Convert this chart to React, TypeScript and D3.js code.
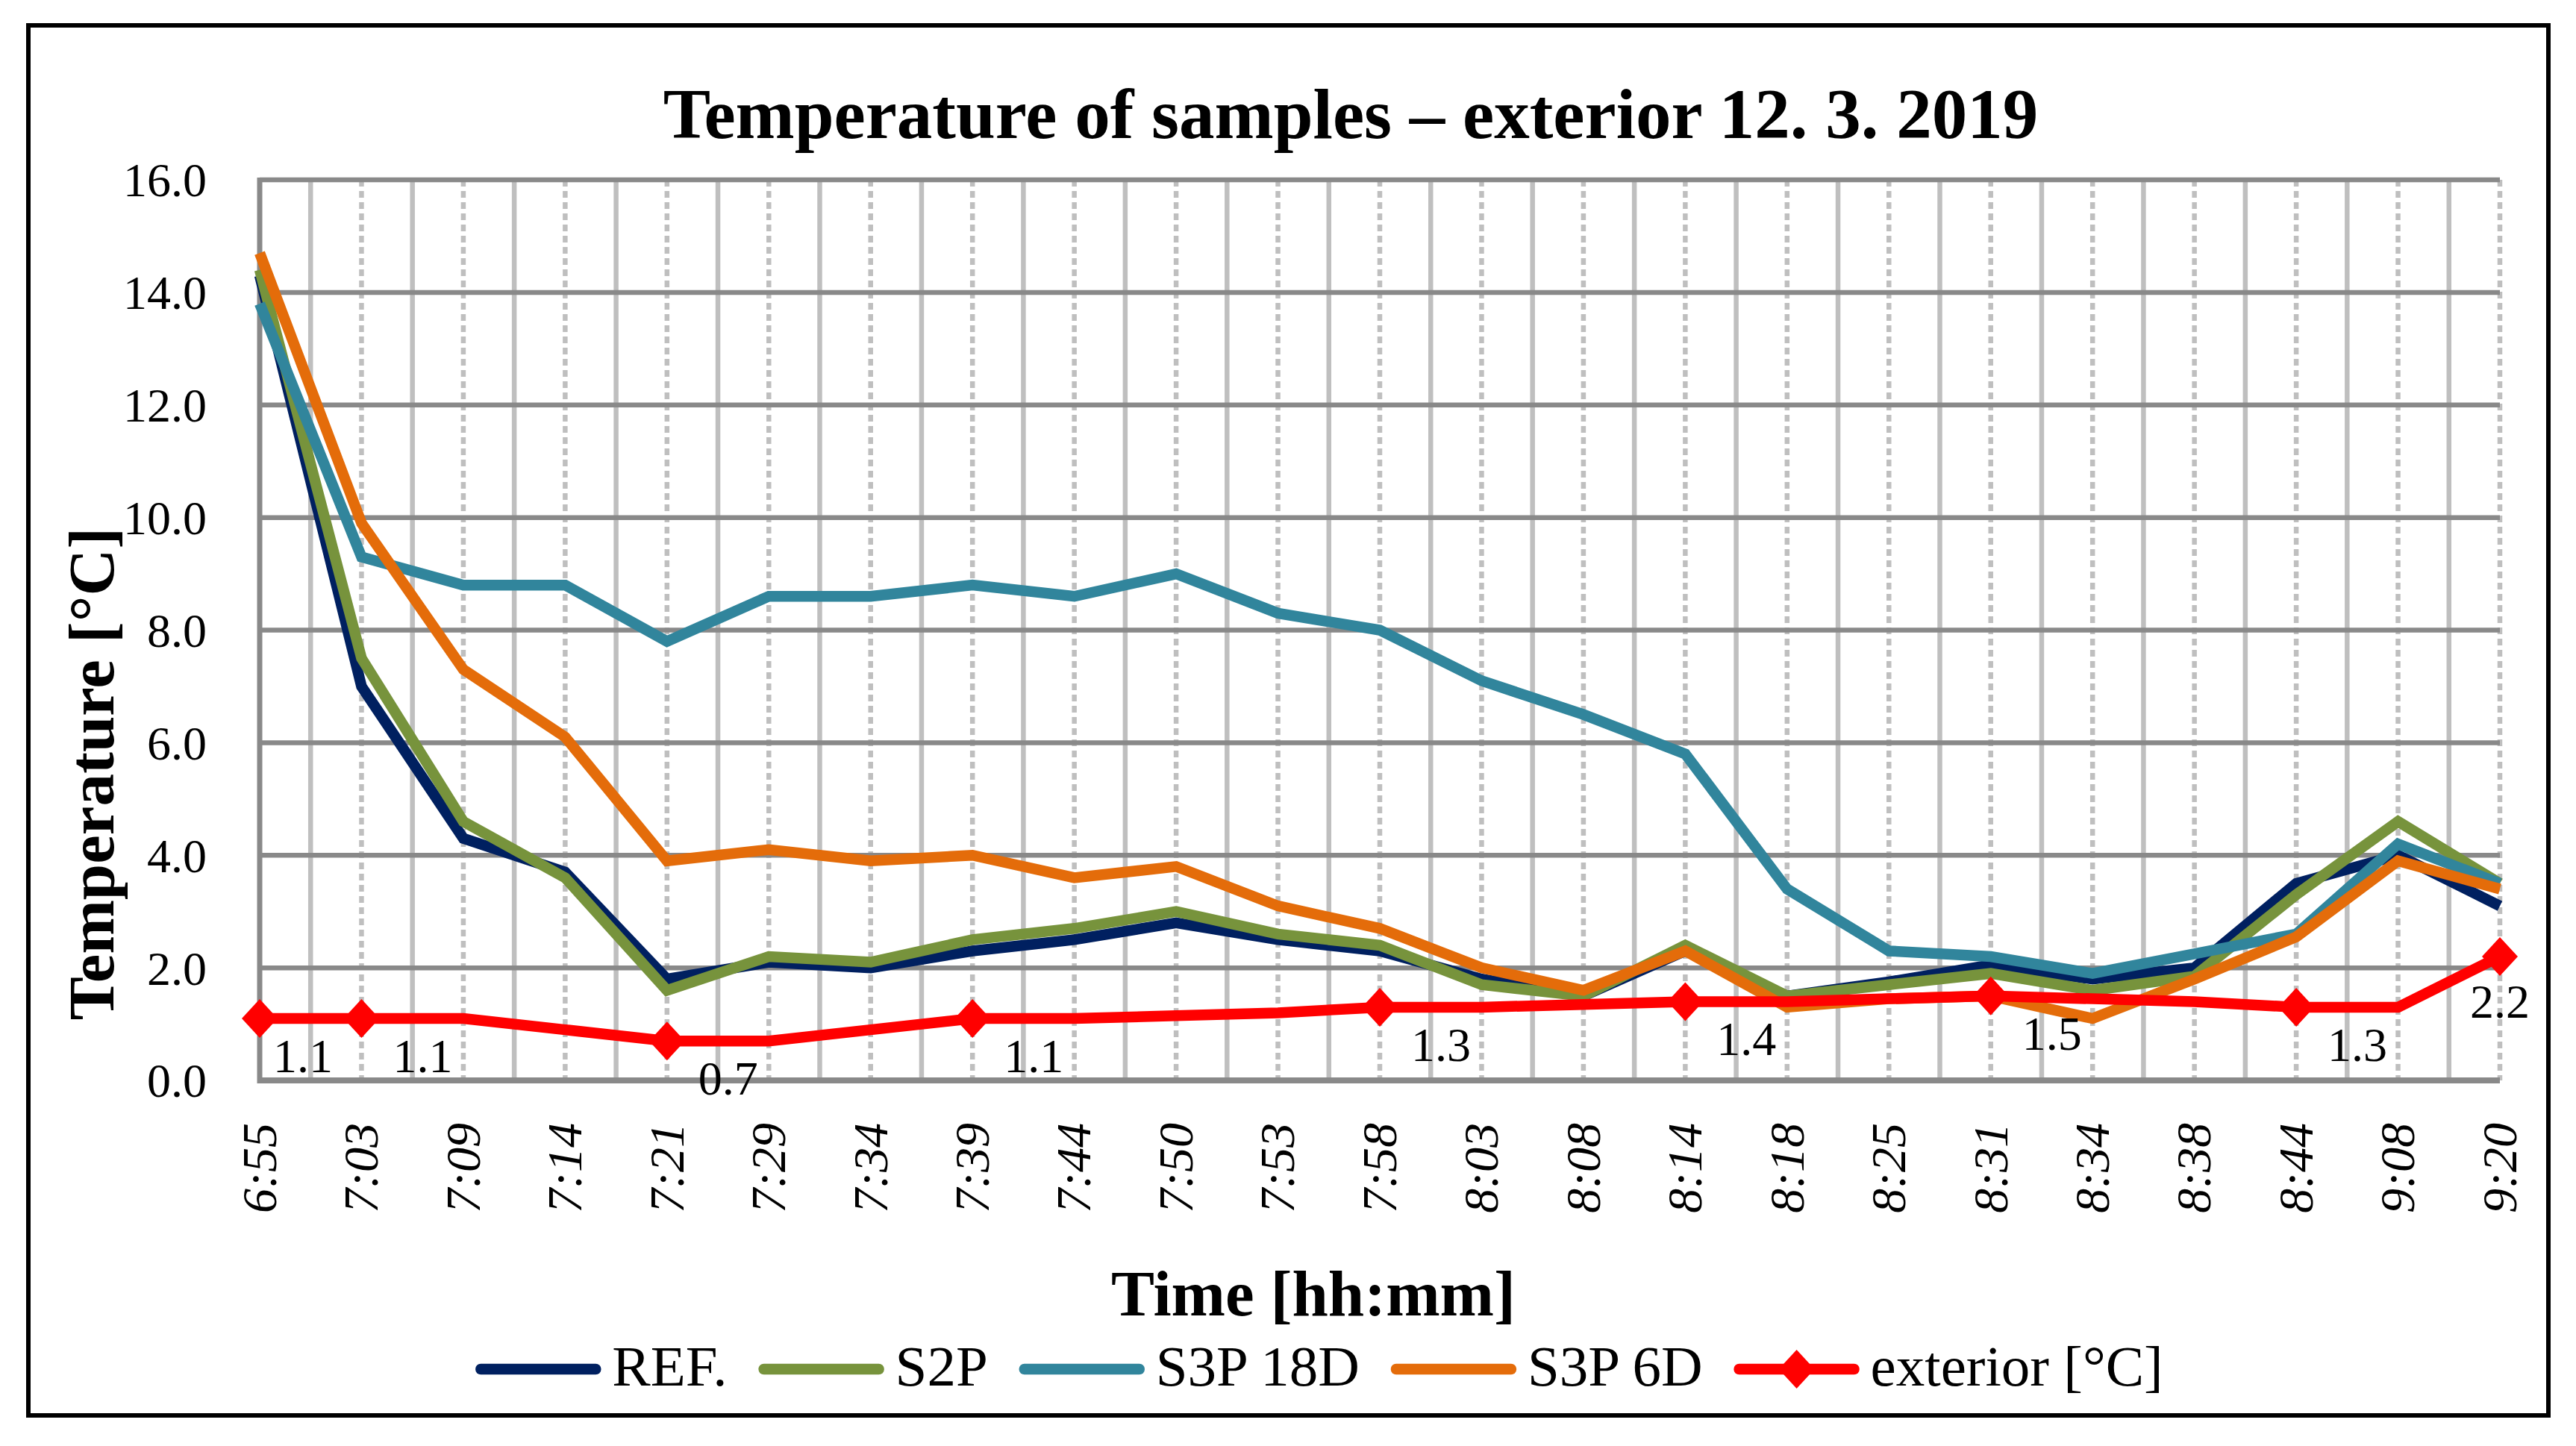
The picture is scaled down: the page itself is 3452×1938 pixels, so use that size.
import React, { useEffect, useRef } from "react";
import * as d3 from "d3";

const categories = ["6:55","7:03","7:09","7:14","7:21","7:29","7:34","7:39","7:44","7:50","7:53","7:58","8:03","8:08","8:14","8:18","8:25","8:31","8:34","8:38","8:44","9:08","9:20"];
const refValues = [14.3, 7.0, 4.3, 3.7, 1.8, 2.1, 2.0, 2.3, 2.5, 2.8, 2.5, 2.3, 1.8, 1.5, 2.3, 1.5, 1.75, 2.05, 1.8, 2.0, 3.5, 4.0, 3.1];
const s2pValues = [14.4, 7.5, 4.6, 3.6, 1.6, 2.2, 2.1, 2.5, 2.7, 3.0, 2.6, 2.4, 1.7, 1.5, 2.4, 1.5, 1.7, 1.9, 1.6, 1.85, 3.3, 4.6, 3.5];
const s3p18dValues = [13.8, 9.3, 8.8, 8.8, 7.8, 8.6, 8.6, 8.8, 8.6, 9.0, 8.3, 8.0, 7.1, 6.5, 5.8, 3.4, 2.3, 2.2, 1.9, 2.25, 2.6, 4.2, 3.5];
const s3p6dValues = [14.7, 9.9, 7.3, 6.1, 3.9, 4.1, 3.9, 4.0, 3.6, 3.8, 3.1, 2.7, 2.0, 1.6, 2.3, 1.3, 1.45, 1.5, 1.1, 1.8, 2.55, 3.9, 3.4];
const exteriorValues = [1.1, 1.1, 1.1, 0.9, 0.7, 0.7, 0.9, 1.1, 1.1, 1.15, 1.2, 1.3, 1.3, 1.35, 1.4, 1.4, 1.45, 1.5, 1.45, 1.4, 1.3, 1.3, 2.2];
const exteriorMarked = [0, 1, 4, 7, 11, 14, 17, 20, 22];
const yTicks = [0, 2, 4, 6, 8, 10, 12, 14, 16];

const seriesNames = ["REF.", "S2P", "S3P 18D", "S3P 6D", "exterior [°C]"];
const seriesColors = ["#002060", "#77933C", "#31859C", "#E46C0A", "#FF0000"];

const W = 3452;
const H = 1938;
const FONT = "'Liberation Serif', 'Times New Roman', serif";

export default function App() {
  const ref = useRef<SVGSVGElement | null>(null);

  useEffect(() => {
    const svg = d3.select(ref.current);
    svg.selectAll("*").remove();

    const L = 348, R = 3350, T = 241, B = 1448;
    const x = d3.scalePoint<string>().domain(categories).range([L, R]);
    const y = d3.scaleLinear().domain([0, 16]).range([B, T]);

    svg.append("rect").attr("x", 0).attr("y", 0).attr("width", W).attr("height", H).attr("fill", "#fff");
    svg.append("rect").attr("x", 38).attr("y", 34).attr("width", 3415 - 38).attr("height", 1897 - 34)
      .attr("fill", "none").attr("stroke", "#000").attr("stroke-width", 6);

    const g = svg.append("g");

    // vertical solid gridlines between categories
    const mids = categories.slice(0, -1).map((c, i) => ((x(c) as number) + (x(categories[i + 1]) as number)) / 2);
    g.selectAll("line.vs").data(mids).enter().append("line")
      .attr("x1", (d) => d).attr("x2", (d) => d).attr("y1", T).attr("y2", B)
      .attr("stroke", "#BFBFBF").attr("stroke-width", 6.5);
    // dashed gridlines at categories
    g.selectAll("line.vd").data(categories.slice(1)).enter().append("line")
      .attr("x1", (d) => x(d) as number).attr("x2", (d) => x(d) as number).attr("y1", T).attr("y2", B)
      .attr("stroke", "#BFBFBF").attr("stroke-width", 6.5).attr("stroke-dasharray", "9 6");
    // horizontal gridlines
    g.selectAll("line.h").data(yTicks.slice(1)).enter().append("line")
      .attr("x1", L).attr("x2", R).attr("y1", (d) => y(d)).attr("y2", (d) => y(d))
      .attr("stroke", "#898989").attr("stroke-width", 6.5);
    // axes
    g.append("line").attr("x1", L).attr("x2", L).attr("y1", T - 3).attr("y2", B + 4)
      .attr("stroke", "#898989").attr("stroke-width", 7);
    g.append("line").attr("x1", L - 3).attr("x2", R).attr("y1", B).attr("y2", B)
      .attr("stroke", "#898989").attr("stroke-width", 8);

    // y tick labels
    g.selectAll("text.yt").data(yTicks).enter().append("text")
      .attr("x", 277).attr("y", (d) => y(d)).attr("dy", "0.35em")
      .attr("text-anchor", "end").attr("font-family", FONT).attr("font-size", 64).attr("fill", "#000")
      .text((d) => d3.format(".1f")(d));

    // x tick labels
    g.selectAll("text.xt").data(categories).enter().append("text")
      .attr("transform", (d) => `translate(${x(d) as number},1505) rotate(-90)`)
      .attr("dy", "0.33em").attr("text-anchor", "end")
      .attr("font-family", FONT).attr("font-style", "italic").attr("font-size", 66).attr("fill", "#000")
      .text((d) => d);

    const allSeries = [refValues, s2pValues, s3p18dValues, s3p6dValues, exteriorValues];
    const line = d3.line<number>().x((_, i) => x(categories[i]) as number).y((d) => y(d));
    allSeries.forEach((vals, si) => {
      g.append("path").attr("d", line(vals) as string).attr("fill", "none")
        .attr("stroke", seriesColors[si]).attr("stroke-width", 14.5)
        .attr("stroke-linejoin", "miter").attr("stroke-miterlimit", 10).attr("stroke-linecap", "butt");
    });

    const diamond = (cx: number, cy: number) => `M${cx},${cy - 26}L${cx + 24},${cy}L${cx},${cy + 26}L${cx - 24},${cy}Z`;
    g.selectAll("path.mk").data(exteriorMarked).enter().append("path")
      .attr("d", (i) => diamond(x(categories[i]) as number, y(exteriorValues[i])))
      .attr("fill", "#FF0000");

    const last = categories.length - 1;
    g.selectAll("text.dl").data(exteriorMarked).enter().append("text")
      .attr("x", (i) => (x(categories[i]) as number) + (i === last ? 0 : i === 0 ? 58 : 82))
      .attr("y", (i) => y(exteriorValues[i]) + (i === last ? 82 : 72))
      .attr("text-anchor", "middle").attr("font-family", FONT).attr("font-size", 64).attr("fill", "#000")
      .text((i) => d3.format(".1f")(exteriorValues[i]));

    // title
    svg.append("text").attr("x", 1810).attr("y", 185).attr("text-anchor", "middle")
      .attr("font-family", FONT).attr("font-weight", "bold").attr("font-size", 95).attr("fill", "#000")
      .text("Temperature of samples – exterior 12. 3. 2019");
    // axis titles
    svg.append("text").attr("transform", "translate(152,1037) rotate(-90)").attr("text-anchor", "middle")
      .attr("font-family", FONT).attr("font-weight", "bold").attr("font-size", 87).attr("fill", "#000")
      .text("Temperature [°C]");
    svg.append("text").attr("x", 1760).attr("y", 1763).attr("text-anchor", "middle")
      .attr("font-family", FONT).attr("font-weight", "bold").attr("font-size", 87).attr("fill", "#000")
      .text("Time [hh:mm]");

    // legend
    const lg = svg.append("g");
    const lineLen = 168, textGap = 15, itemGap = 42, ly = 1835;
    const texts = seriesNames.map((n) =>
      lg.append("text").attr("font-family", FONT).attr("font-size", 77).attr("fill", "#000").attr("y", ly + 22).text(n)
    );
    const widths = texts.map((t) => (t.node() as SVGTextElement).getComputedTextLength());
    const total = widths.reduce((a, w) => a + lineLen + textGap + w, 0) + itemGap * (widths.length - 1);
    let cx = 1768 - total / 2;
    seriesNames.forEach((_, i) => {
      lg.append("line").attr("x1", cx + 7).attr("x2", cx + lineLen - 7).attr("y1", ly).attr("y2", ly)
        .attr("stroke", seriesColors[i]).attr("stroke-width", 14.5).attr("stroke-linecap", "round");
      if (i === 4) lg.append("path").attr("d", diamond(cx + lineLen / 2, ly)).attr("fill", seriesColors[i]);
      texts[i].attr("x", cx + lineLen + textGap);
      cx += lineLen + textGap + widths[i] + itemGap;
    });
  }, []);

  return (
    <svg ref={ref} width={W} height={H} viewBox={`0 0 ${W} ${H}`}
      style={{ position: "absolute", left: 0, top: 0, display: "block", background: "#fff" }} />
  );
}
